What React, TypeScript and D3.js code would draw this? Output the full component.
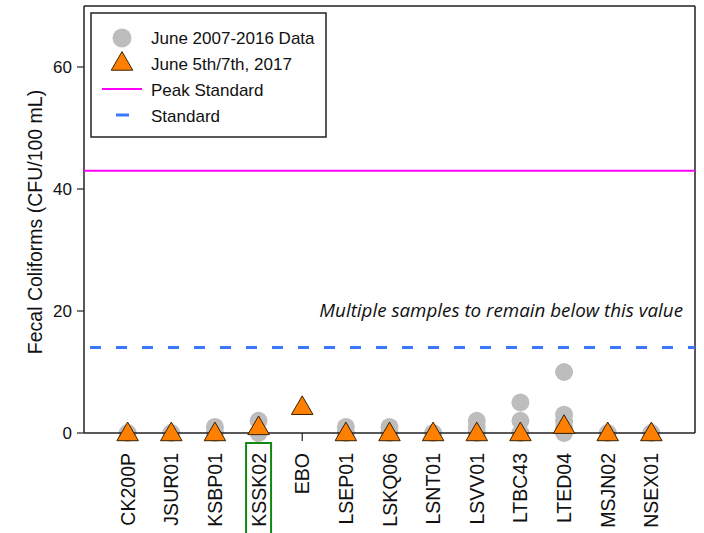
import React from "react";
import * as d3 from "d3";

const categories = ["CK200P","JSUR01","KSBP01","KSSK02","EBO","LSEP01","LSKQ06","LSNT01","LSVV01","LTBC43","LTED04","MSJN02","NSEX01"];
const historical: number[][] = [[0],[0],[1,0],[2,0],[],[1,0],[1,0],[0],[2,1,0],[5,2,0],[10,3,2,1,0],[0],[0]];
const june2017 = [0,0,0,1,4.3,0,0,0,0,0,1.2,0,0];
const yTicks = [0,20,40,60];
const peakStandard = 43;
const standard = 14;
const legendLabels = ["June 2007-2016 Data","June 5th/7th, 2017","Peak Standard","Standard"];
const highlighted = "KSSK02";
const annotation = "Multiple samples to remain below this value";

const W = 704, H = 533;
const L = 84, R = 695, T = 6, B = 433;

export default function App() {
  const x = d3.scaleLinear().domain([0, categories.length + 1]).range([L, R]);
  const y = d3.scaleLinear().domain([0, 70]).range([B, T]);
  const tri = d3.symbol().type(d3.symbolTriangle).size(200)();
  const font = "Arial, 'Liberation Sans', sans-serif";
  return (
    <svg width={W} height={H} style={{ position: "absolute", left: 0, top: 0 }} fontFamily={font}>
      <rect x={0} y={0} width={W} height={H} fill="white" />
      {/* frame */}
      <line x1={L} x2={L} y1={T} y2={B} stroke="#222" strokeWidth={1.5} />
      <line x1={L} x2={R} y1={T} y2={T} stroke="#222" strokeWidth={1.5} />
      <line x1={R} x2={R} y1={T} y2={B} stroke="#222" strokeWidth={1.5} />
      {/* y ticks */}
      {yTicks.map(t => (
        <g key={t}>
          <line x1={L - 7} x2={L} y1={y(t)} y2={y(t)} stroke="#222" strokeWidth={1.2} />
          <text x={L - 12} y={y(t)} dy="0.36em" textAnchor="end" fontSize={17} fill="#111">{t}</text>
        </g>
      ))}
      <text transform={`translate(42,222) rotate(-90)`} textAnchor="middle" fontSize={19.5} fill="#111">Fecal Coliforms (CFU/100 mL)</text>
      {/* reference lines */}
      <line x1={L} x2={R} y1={y(peakStandard)} y2={y(peakStandard)} stroke="#ff00ff" strokeWidth={2} />
      <line x1={L + 6} x2={R} y1={y(standard)} y2={y(standard)} stroke="#3c78ff" strokeWidth={3} strokeDasharray="11 15" />
      <text x={683} y={y(standard) - 31} textAnchor="end" fontSize={18.8} fontStyle="italic" fontFamily="'Open Sans', sans-serif" fill="#111">{annotation}</text>
      {/* x ticks */}
      {categories.map((c, i) => (
        <line key={c} x1={x(i + 1)} x2={x(i + 1)} y1={B} y2={B + 8} stroke="#222" strokeWidth={1.2} />
      ))}
      {/* historical */}
      {historical.map((vals, i) => vals.map((v, j) => (
        <circle key={`${i}-${j}`} cx={x(i + 1)} cy={y(v)} r={9} fill="#bdbdbd" />
      )))}
      {/* x axis */}
      <line x1={L} x2={R} y1={B} y2={B} stroke="#222" strokeWidth={1.5} />
      {/* 2017 */}
      {june2017.map((v, i) => (
        <path key={i} d={tri as string} transform={`translate(${x(i + 1)},${y(v) + 1.5})`} fill="#ff8000" stroke="#3a2000" strokeWidth={1} />
      ))}
      {/* x labels */}
      {categories.map((c, i) => (
        <text key={c} transform={`translate(${x(i + 1)},${B + 20}) rotate(-90)`} textAnchor="end" dy="0.36em" fontSize={19.5} fill="#111">{c}</text>
      ))}
      {categories.map((c, i) => c === highlighted ? (
        <rect key={c} x={x(i + 1) - 12.5} y={B + 10} width={25} height={H - B} fill="none" stroke="#118811" strokeWidth={2} />
      ) : null)}
      {/* legend */}
      <rect x={91} y={13} width={235} height={124} fill="white" stroke="#222" strokeWidth={1.5} />
      <circle cx={122} cy={38} r={9.5} fill="#bdbdbd" />
      <path d={tri as string} transform="translate(122,64)" fill="#ff8000" stroke="#3a2000" strokeWidth={1} />
      <line x1={102} x2={142} y1={89} y2={89} stroke="#ff00ff" strokeWidth={2} />
      <line x1={116} x2={129} y1={115} y2={115} stroke="#3c78ff" strokeWidth={3} />
      {legendLabels.map((l, i) => (
        <text key={l} x={151} y={38 + i * 26} dy="0.36em" fontSize={17} fill="#111">{l}</text>
      ))}
    </svg>
  );
}
